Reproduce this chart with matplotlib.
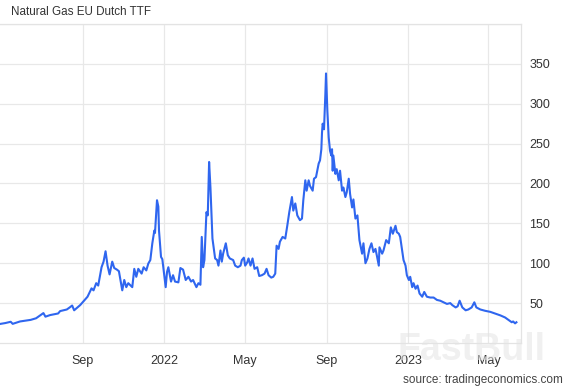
import matplotlib
matplotlib.use("Agg")
import matplotlib.pyplot as plt
import pandas as pd

plt.rcParams['font.family'] = ['Liberation Sans', 'DejaVu Sans']

# TTF front-month price (EUR/MWh)
dates = [
    "2021-05-01", "2021-05-08", "2021-05-16", "2021-05-19", "2021-05-30", "2021-06-15",
    "2021-06-23", "2021-07-04", "2021-07-07", "2021-07-14", "2021-07-26", "2021-07-29",
    "2021-08-08", "2021-08-13", "2021-08-16", "2021-08-19", "2021-08-28", "2021-09-08",
    "2021-09-14", "2021-09-17", "2021-09-21", "2021-09-24", "2021-09-29", "2021-10-02",
    "2021-10-05", "2021-10-08", "2021-10-11", "2021-10-15", "2021-10-18", "2021-10-22",
    "2021-10-25", "2021-10-30", "2021-11-02", "2021-11-05", "2021-11-08", "2021-11-14",
    "2021-11-17", "2021-11-20", "2021-11-23", "2021-11-28", "2021-12-01", "2021-12-05",
    "2021-12-08", "2021-12-11", "2021-12-14", "2021-12-17", "2021-12-18", "2021-12-21",
    "2021-12-23", "2021-12-24", "2021-12-27", "2021-12-29", "2022-01-03", "2022-01-05",
    "2022-01-07", "2022-01-11", "2022-01-14", "2022-01-17", "2022-01-22", "2022-01-25",
    "2022-01-29", "2022-02-02", "2022-02-06", "2022-02-10", "2022-02-13", "2022-02-18",
    "2022-02-21", "2022-02-24", "2022-02-26", "2022-02-28", "2022-03-02", "2022-03-05",
    "2022-03-07", "2022-03-09", "2022-03-11", "2022-03-14", "2022-03-15", "2022-03-18",
    "2022-03-21", "2022-03-23", "2022-03-26", "2022-03-28", "2022-03-30", "2022-04-03",
    "2022-04-06", "2022-04-09", "2022-04-14", "2022-04-17", "2022-04-21", "2022-04-25",
    "2022-04-27", "2022-04-30", "2022-05-02", "2022-05-05", "2022-05-07", "2022-05-10",
    "2022-05-13", "2022-05-16", "2022-05-20", "2022-05-23", "2022-05-27", "2022-05-31",
    "2022-06-03", "2022-06-06", "2022-06-10", "2022-06-13", "2022-06-16", "2022-06-18",
    "2022-06-21", "2022-06-23", "2022-06-27", "2022-07-01", "2022-07-04", "2022-07-07",
    "2022-07-11", "2022-07-13", "2022-07-16", "2022-07-19", "2022-07-23", "2022-07-26",
    "2022-07-28", "2022-07-31", "2022-08-02", "2022-08-05", "2022-08-07", "2022-08-11",
    "2022-08-13", "2022-08-16", "2022-08-20", "2022-08-22", "2022-08-24", "2022-08-25",
    "2022-08-26", "2022-08-28", "2022-08-30", "2022-08-31", "2022-09-02", "2022-09-04",
    "2022-09-06", "2022-09-08", "2022-09-09", "2022-09-10", "2022-09-11", "2022-09-14",
    "2022-09-16", "2022-09-19", "2022-09-21", "2022-09-24", "2022-09-26", "2022-09-29",
    "2022-10-01", "2022-10-04", "2022-10-06", "2022-10-09", "2022-10-11", "2022-10-14",
    "2022-10-17", "2022-10-20", "2022-10-24", "2022-10-26", "2022-10-29", "2022-11-01",
    "2022-11-04", "2022-11-07", "2022-11-10", "2022-11-13", "2022-11-15", "2022-11-18",
    "2022-11-19", "2022-11-23", "2022-11-25", "2022-11-29", "2022-12-03", "2022-12-06",
    "2022-12-09", "2022-12-13", "2022-12-15", "2022-12-18", "2022-12-20", "2022-12-23",
    "2022-12-25", "2022-12-28", "2022-12-30", "2023-01-02", "2023-01-04", "2023-01-07",
    "2023-01-09", "2023-01-12", "2023-01-15", "2023-01-18", "2023-01-22", "2023-01-25",
    "2023-01-29", "2023-02-03", "2023-02-08", "2023-02-13", "2023-02-18", "2023-02-23",
    "2023-02-28", "2023-03-05", "2023-03-08", "2023-03-13", "2023-03-16", "2023-03-19",
    "2023-03-23", "2023-03-28", "2023-04-01", "2023-04-06", "2023-04-10", "2023-04-13",
    "2023-04-19", "2023-04-26", "2023-05-04", "2023-05-11", "2023-05-19", "2023-05-26",
    "2023-05-31", "2023-06-05", "2023-06-07", "2023-06-10", "2023-06-12",
]
prices = [
    24, 25, 26.6, 24, 27, 29,
    31, 37.5, 33, 35, 37, 40,
    42, 45, 47, 41, 47.5, 58,
    68.5, 66, 75, 72, 95, 102,
    115, 97, 86, 102, 94, 92,
    90, 66, 79, 70, 75, 70,
    93, 83, 93, 87, 95, 91,
    99.6, 104, 125, 141, 138, 179,
    171, 141, 108, 105, 70, 89,
    95, 77, 85, 77, 76, 94,
    92, 79, 83, 77, 79, 70,
    75, 73, 133, 95, 104, 164,
    160, 227, 195, 131, 125, 106,
    104, 97, 116, 102, 112, 125,
    110, 106, 104, 97, 95, 97,
    104, 107, 97, 101, 106, 97,
    106, 93, 95, 84, 85, 87,
    93, 85, 82, 83, 87, 122,
    118, 127, 133, 131, 147, 164,
    183, 166, 175, 160, 154, 156,
    179, 204, 191, 204, 197, 191,
    206, 208, 225, 229, 243, 264,
    275, 268, 312, 338, 291, 258,
    241, 235, 243, 216, 235, 212,
    218, 204, 216, 191, 195, 183,
    189, 206, 187, 170, 180, 156,
    160, 129, 112, 125, 100, 106,
    118, 125, 114, 118, 110, 97,
    120, 112, 116, 129, 125, 145,
    137, 147, 139, 137, 133, 116,
    104, 97, 85, 79, 83, 70,
    75, 68, 72, 62, 58, 64,
    58, 57, 57, 54, 53, 51,
    49, 50, 47.5, 44.6, 46, 53,
    44.6, 41, 42, 44.6, 51, 44.6,
    42, 40.4, 39, 37, 34.6, 32,
    29, 26, 27, 24.6, 26,
]
x_start, x_end = "2021-04-30", "2023-06-19"
x_tick_dates = ["2021-09-01", "2022-01-01", "2022-05-01", "2022-09-01", "2023-01-01", "2023-05-01"]
x_tick_labels = ["Sep", "2022", "May", "Sep", "2023", "May"]
y_ticks = [50, 100, 150, 200, 250, 300, 350]

dt = pd.to_datetime(dates)

fig = plt.figure(figsize=(5.79, 3.91), dpi=100)
ax = fig.add_axes([0.0, 0.1228, 0.9, 0.8158])

ax.plot(dt, prices, color='#2f66ef', linewidth=1.5, zorder=3)

ax.set_xlim(pd.Timestamp(x_start), pd.Timestamp(x_end))
ax.set_ylim(0, 400)

ax.set_xticks(pd.to_datetime(x_tick_dates))
ax.set_xticklabels(x_tick_labels)
ax.set_yticks(y_ticks + [400])
ax.set_yticklabels([str(v) for v in y_ticks] + [''])
ax.yaxis.tick_right()

ax.grid(True, color='#e8e8e8', linewidth=0.9)
ax.set_axisbelow(True)
ax.spines['left'].set_visible(False)
for side in ['top', 'right', 'bottom']:
    ax.spines[side].set_color('#e3e3e3')
    ax.spines[side].set_linewidth(0.9)
ax.tick_params(length=0, labelsize=9, labelcolor='#333333')
ax.tick_params(axis='x', pad=9)
ax.tick_params(axis='y', pad=6)

fig.text(0.019, 0.969, "Natural Gas EU Dutch TTF", fontsize=8.4, color='#333333', va='center')
fig.text(0.972, 0.027, "source: tradingeconomics.com", fontsize=8.5, color='#444444',
         ha='right', va='center')
# faint watermark
fig.text(0.815, 0.105, "FastBull", fontsize=27, fontweight='bold', color='#e4e4e4',
         alpha=0.55, ha='center', va='center', zorder=10)

fig.savefig("out.png", dpi=100)
